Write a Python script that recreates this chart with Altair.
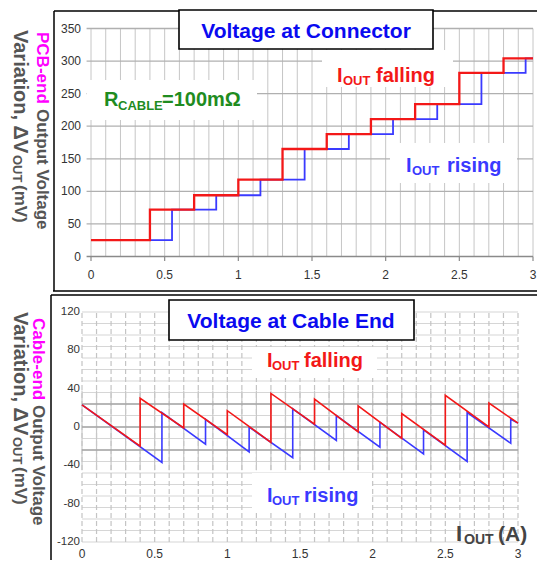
import altair as alt
import pandas as pd

# ---------------- data ----------------
# Top panel: PCB-end (connector) voltage, step levels in mV
top_levels = [25, 72, 94, 118, 165, 188, 211, 234, 282, 304]
fall_edges = [0.4, 0.7, 1.0, 1.3, 1.6, 1.9, 2.2, 2.5, 2.8]      # I_OUT falling thresholds (A)
rise_edges = [0.55, 0.85, 1.15, 1.45, 1.75, 2.05, 2.35, 2.65, 2.95]  # I_OUT rising thresholds (A)
x_start, x_end = 0.0, 3.0

# Bottom panel: cable-end voltage (mV), sawtooth vertices
bot_fall_x = [0, 0.4, 0.4, 0.7, 0.7, 1.0, 1.0, 1.3, 1.3, 1.6, 1.6, 1.9, 1.9, 2.2, 2.2, 2.5, 2.5, 2.8, 2.8, 3.0]
bot_fall_y = [23, -20, 30, -1, 24, -8, 17, -16, 35, 3, 29, -5, 22, -12, 14, -19, 33, 0, 25, 4]
bot_rise_x = [0, 0.55, 0.55, 0.85, 0.85, 1.15, 1.15, 1.45, 1.45, 1.75, 1.75, 2.05, 2.05, 2.35, 2.35, 2.65, 2.65, 2.95, 2.95, 3.0]
bot_rise_y = [23, -37, 15, -18, 8, -26, 0, -32, 19, -14, 12, -21, 5, -28, -3, -36, 15, -17, 8, 4]

x_ticks = [0, 0.5, 1, 1.5, 2, 2.5, 3]
x_tick_labels = ["0", "0.5", "1", "1.5", "2", "2.5", "3"]
top_y_ticks = [0, 50, 100, 150, 200, 250, 300, 350]
bot_y_ticks = [-120, -80, -40, 0, 40, 80, 120]

# ---------------- styling ----------------
RED = "#f31818"
BLUE = "#3a3aff"
TITLE_BLUE = "#0a0af0"
GREEN = "#1f8c1f"
GRAY_TXT = "#555555"
MAGENTA = "#ff00ff"
FONT = "Liberation Sans, Arial, sans-serif"
NARROW = "Liberation Sans Narrow, Arial Narrow, Liberation Sans, sans-serif"
W = 529
H_TOP = 285
H_BOT = 267

one = pd.DataFrame({"a": [0]})


def hline(x1, x2, y, color="black", sw=1.5):
    return alt.Chart(one).mark_rule(color=color, strokeWidth=sw).encode(
        x=alt.value(x1), x2=alt.value(x2), y=alt.value(y))


def vline(x, y1, y2, color="black", sw=1.5):
    return alt.Chart(one).mark_rule(color=color, strokeWidth=sw).encode(
        x=alt.value(x), y=alt.value(y1), y2=alt.value(y2))


def box(x1, x2, y1, y2, stroke=False):
    kw = dict(fill="white")
    if stroke:
        kw.update(stroke="black", strokeWidth=1.6)
    return alt.Chart(one).mark_rect(**kw).encode(
        x=alt.value(x1), x2=alt.value(x2), y=alt.value(y1), y2=alt.value(y2))


def txt(s, x, y, size, color, align="left", baseline="alphabetic", angle=0,
        weight="bold", font=FONT):
    kw = dict(text=s, fontSize=size, color=color, align=align, baseline=baseline,
              fontWeight=weight, font=font)
    if angle:
        kw["angle"] = angle
    return alt.Chart(one).mark_text(**kw).encode(x=alt.value(x), y=alt.value(y))


# ================= TOP PANEL =================
xs_t = alt.Scale(domain=[0, 3], range=[83, 525], nice=False, zero=False)
ys_t = alt.Scale(domain=[0, 350], range=[248.5, 20.5], nice=False, zero=False)

vg_t = pd.DataFrame({"x": [i / 10 for i in range(31)], "lo": 0, "hi": 350})
hg_t = pd.DataFrame({"y": top_y_ticks[1:], "lo": -0.03, "hi": 3.0})
ax_t = pd.DataFrame({"y": [0], "lo": -0.03, "hi": 3.0})
xt_t = pd.DataFrame({"x": x_ticks, "lab": x_tick_labels})
yt_t = pd.DataFrame({"y": top_y_ticks, "lab": [str(v) for v in top_y_ticks]})

fall_t = pd.DataFrame({"x": [x_start] + fall_edges + [x_end],
                       "y": top_levels + [top_levels[-1]]})
rise_t = pd.DataFrame({"x": [x_start] + rise_edges + [x_end],
                       "y": top_levels + [top_levels[-1]]})

top_layers = [
    alt.Chart(vg_t).mark_rule(color="#c6c6c6", strokeWidth=1).encode(
        x=alt.X("x:Q", scale=xs_t, axis=None),
        y=alt.Y("lo:Q", scale=ys_t, axis=None), y2="hi:Q"),
    alt.Chart(hg_t).mark_rule(color="#b0b0b0", strokeWidth=1.3).encode(
        x=alt.X("lo:Q", scale=xs_t, axis=None), x2="hi:Q",
        y=alt.Y("y:Q", scale=ys_t, axis=None)),
    alt.Chart(ax_t).mark_rule(color="#8a8a8a", strokeWidth=1.6).encode(
        x=alt.X("lo:Q", scale=xs_t, axis=None), x2="hi:Q",
        y=alt.Y("y:Q", scale=ys_t, axis=None)),
    alt.Chart(xt_t).mark_rule(color="#8a8a8a", strokeWidth=1.2).encode(
        x=alt.X("x:Q", scale=xs_t, axis=None), y=alt.value(248.5), y2=alt.value(253)),
    alt.Chart(xt_t).mark_text(fontSize=12, color="#333333", font=NARROW,
                              baseline="middle").encode(
        x=alt.X("x:Q", scale=xs_t, axis=None), y=alt.value(267), text="lab:N"),
    alt.Chart(yt_t).mark_text(fontSize=12, color="#333333", font=NARROW,
                              align="right", baseline="middle").encode(
        x=alt.value(73), y=alt.Y("y:Q", scale=ys_t, axis=None), text="lab:N"),
    # white label backgrounds
    box(314, 445, 42, 79),
    box(79, 249, 72, 112),
    box(382, 509, 135, 175),
    # frame
    hline(46, W, 3),
    vline(46, 3, 283),
    hline(45, W, 283),
    # data
    alt.Chart(rise_t).mark_line(color=BLUE, strokeWidth=1.8, interpolate="step-after").encode(
        x=alt.X("x:Q", scale=xs_t, axis=None), y=alt.Y("y:Q", scale=ys_t, axis=None)),
    alt.Chart(fall_t).mark_line(color=RED, strokeWidth=2.3, interpolate="step-after").encode(
        x=alt.X("x:Q", scale=xs_t, axis=None), y=alt.Y("y:Q", scale=ys_t, axis=None)),
    # title box
    box(171, 425, 2, 41, stroke=True),
    txt("Voltage at Connector", 298, 29.5, 21, TITLE_BLUE, align="center"),
    # annotations
    txt("I", 329, 73.7, 20, RED),
    txt("OUT", 335, 76.5, 13, RED),
    txt("falling", 368, 73.7, 20, RED),
    txt("R", 96, 98, 20, GREEN),
    txt("CABLE", 110, 101.5, 13, GREEN),
    txt("=100m\u03a9", 154, 98, 20, GREEN),
    txt("I", 398, 163.7, 20, BLUE),
    txt("OUT", 404, 167, 13, BLUE),
    txt("rising", 439, 163.7, 20, BLUE),
    # y title
    txt("PCB-end", 34, 24, 17, MAGENTA, baseline="middle", angle=90),
    txt("Output Voltage", 34, 101, 17, GRAY_TXT, baseline="middle", angle=90),
    txt("Variation, \u0394V", 12, 22, 20, GRAY_TXT, baseline="middle", angle=90),
    txt("OUT", 9, 147, 13, GRAY_TXT, baseline="middle", angle=90),
    txt("(mV)", 12, 177, 17, GRAY_TXT, baseline="middle", angle=90),
]
top = alt.layer(*top_layers).properties(width=W, height=H_TOP)

# ================= BOTTOM PANEL =================
xs_b = alt.Scale(domain=[0, 3], range=[74, 510], nice=False, zero=False)
ys_b = alt.Scale(domain=[-120, 120], range=[249, 19], nice=False, zero=False)

vg_b = pd.DataFrame({"x": [i / 10 for i in range(31)], "lo": -120, "hi": 120})
vs_b = pd.DataFrame({"x": [i / 10 for i in range(31)], "lo": -45, "hi": 38})
hg_b = pd.DataFrame({"y": [v for v in range(-120, 121, 12)], "lo": 0.0, "hi": 3.0})
hd_b = pd.DataFrame({"y": [-24, 0, 24], "lo": 0.0, "hi": 3.0})
xt_b = pd.DataFrame({"x": x_ticks, "lab": x_tick_labels})
yt_b = pd.DataFrame({"y": bot_y_ticks, "lab": [str(v) for v in bot_y_ticks]})

fall_b = pd.DataFrame({"x": bot_fall_x, "y": bot_fall_y, "i": range(len(bot_fall_x))})
rise_b = pd.DataFrame({"x": bot_rise_x, "y": bot_rise_y, "i": range(len(bot_rise_x))})

bot_layers = [
    alt.Chart(hg_b).mark_rule(color="#d6d6d6", strokeWidth=1.1).encode(
        x=alt.X("lo:Q", scale=xs_b, axis=None), x2="hi:Q",
        y=alt.Y("y:Q", scale=ys_b, axis=None)),
    alt.Chart(vg_b).mark_rule(color="#c4c4c4", strokeWidth=1.2, strokeDash=[5, 3]).encode(
        x=alt.X("x:Q", scale=xs_b, axis=None),
        y=alt.Y("lo:Q", scale=ys_b, axis=None), y2="hi:Q"),
    alt.Chart(vs_b).mark_rule(color="#c8c8c8", strokeWidth=1.2).encode(
        x=alt.X("x:Q", scale=xs_b, axis=None),
        y=alt.Y("lo:Q", scale=ys_b, axis=None), y2="hi:Q"),
    alt.Chart(hd_b).mark_rule(color="#a6a6a6", strokeWidth=1.3).encode(
        x=alt.X("lo:Q", scale=xs_b, axis=None), x2="hi:Q",
        y=alt.Y("y:Q", scale=ys_b, axis=None)),
    alt.Chart(xt_b).mark_text(fontSize=12, color="#333333", font=NARROW,
                              baseline="middle").encode(
        x=alt.X("x:Q", scale=xs_b, axis=None), y=alt.value(261), text="lab:N"),
    alt.Chart(yt_b).mark_text(fontSize=11.5, color="#333333", font=FONT,
                              align="right", baseline="middle").encode(
        x=alt.value(72), y=alt.Y("y:Q", scale=ys_b, axis=None), text="lab:N"),
    # white label backgrounds
    box(244, 369, 54, 85),
    box(244, 364, 180, 220),
    # frame
    hline(43, W, 2),
    vline(43, 2, H_BOT),
    # data
    alt.Chart(rise_b).mark_line(color=BLUE, strokeWidth=1.6).encode(
        x=alt.X("x:Q", scale=xs_b, axis=None), y=alt.Y("y:Q", scale=ys_b, axis=None),
        order="i:Q"),
    alt.Chart(fall_b).mark_line(color=RED, strokeWidth=1.6).encode(
        x=alt.X("x:Q", scale=xs_b, axis=None), y=alt.Y("y:Q", scale=ys_b, axis=None),
        order="i:Q"),
    # title box
    box(161, 406, 7, 47, stroke=True),
    txt("Voltage at Cable End", 283, 35, 21, TITLE_BLUE, align="center"),
    # annotations
    txt("I", 259, 73.7, 20, RED),
    txt("OUT", 264, 77, 13, RED),
    txt("falling", 296, 73.7, 20, RED),
    txt("I", 259, 208.7, 20, BLUE),
    txt("OUT", 264, 211.7, 13, BLUE),
    txt("rising", 296, 208.7, 20, BLUE),
    # x title
    txt("I", 448, 248, 22, "#444444"),
    txt("OUT", 456, 251, 14, "#444444"),
    txt("(A)", 490, 248, 21, "#444444"),
    # y title
    txt("Cable-end", 30, 25, 17, MAGENTA, baseline="middle", angle=90),
    txt("Output Voltage", 30, 112, 17, GRAY_TXT, baseline="middle", angle=90),
    txt("Variation, \u0394V", 12, 19, 20, GRAY_TXT, baseline="middle", angle=90),
    txt("OUT", 9, 144, 13, GRAY_TXT, baseline="middle", angle=90),
    txt("(mV)", 12, 174, 17, GRAY_TXT, baseline="middle", angle=90),
]
bot = alt.layer(*bot_layers).properties(width=W, height=H_BOT)

chart = alt.vconcat(top, bot, spacing=0, bounds="flush").properties(
    padding=0).configure_view(stroke=None)

chart.save("out.html", embed_options={"renderer": "svg", "actions": False})
